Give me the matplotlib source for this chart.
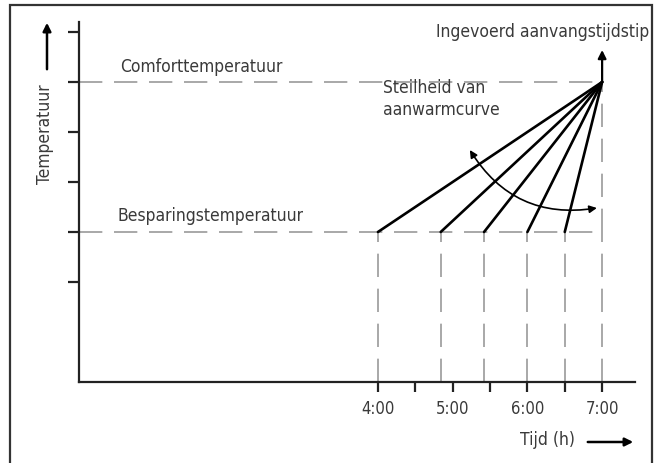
import numpy as np
import matplotlib
matplotlib.use("Agg")
import matplotlib.pyplot as plt
from matplotlib.patches import Rectangle, FancyArrowPatch

plt.rcParams['font.family'] = ['DejaVu Sans']
plt.rcParams['font.stretch'] = 'condensed'

## data: start times of the warm-up lines (hours) and the two temperature levels
start_times = [4.0, 4.84, 5.42, 6.0, 6.5]
switch_time = 7.0
t_saving = 3.0
t_comfort = 6.0
hour_ticks = [4, 5, 6, 7]
hour_labels = ['4:00', '5:00', '6:00', '7:00']
half_ticks = [4.5, 5.5, 6.5]

text_col = '#3a3a3a'
dash_col = '#9a9a9a'
dash = (14, 7)

fig = plt.figure(figsize=(6.56, 4.63), dpi=100)
W, H = 656, 463
ax = fig.add_axes([79 / W, (H - 382) / H, (635 - 79) / W, (382 - 22) / H])
ax.set_xlim(0, 7.44)
ax.set_ylim(0, 7.2)

# spines
for s in ['top', 'right']:
    ax.spines[s].set_visible(False)
for s in ['left', 'bottom']:
    ax.spines[s].set_linewidth(1.6)
    ax.spines[s].set_color('#222222')

ax.set_yticks([2, 3, 4, 5, 6, 7])
ax.set_yticklabels([])
ax.tick_params(axis='y', direction='out', length=8, width=1.6, color='#222222')
ax.set_xticks(hour_ticks)
ax.set_xticklabels(hour_labels)
ax.set_xticks(half_ticks, minor=True)
ax.tick_params(axis='x', which='both', direction='out', length=7, width=1.6,
               color='#222222', labelsize=12, labelcolor=text_col, pad=6)

# horizontal dashed levels
ax.plot([0, switch_time], [t_comfort, t_comfort], color=dash_col, lw=1.2, dashes=dash)
ax.plot([0, switch_time], [t_saving, t_saving], color=dash_col, lw=1.2, dashes=dash)

# vertical guides
for t in start_times + [switch_time]:
    ax.plot([t, t], [0, t_saving], color=dash_col, lw=1.2, dashes=dash)
ax.plot([switch_time, switch_time], [t_saving, t_comfort], color=dash_col, lw=1.2, dashes=dash)

# warm-up lines
for t in start_times:
    ax.plot([t, switch_time], [t_saving, t_comfort], color='black', lw=1.9,
            solid_capstyle='round')

# arrow at switch time
ax.annotate('', xy=(switch_time, 6.64), xytext=(switch_time, t_comfort),
            arrowprops=dict(arrowstyle='-|>', color='black', lw=1.6,
                            mutation_scale=12, shrinkA=0, shrinkB=0))

# curved arrow for slope
ax.annotate('', xy=(6.93, 3.48), xytext=(5.23, 4.64),
            arrowprops=dict(arrowstyle='<|-|>', color='black', lw=1.2,
                            mutation_scale=11, shrinkA=0, shrinkB=0,
                            connectionstyle='arc3,rad=0.33'))

# labels
fs = 12.5
ax.text(0.55, 6.3, 'Comforttemperatuur', fontsize=fs, color=text_col, ha='left', va='center')
ax.text(0.52, 3.32, 'Besparingstemperatuur', fontsize=fs, color=text_col, ha='left', va='center')
ax.text(6.2, 7.0, 'Ingevoerd aanvangstijdstip', fontsize=fs, color=text_col,
        ha='center', va='center', clip_on=False)
ax.text(4.07, 5.88, 'Steilheid van', fontsize=fs, color=text_col, ha='left', va='center')
ax.text(4.07, 5.44, 'aanwarmcurve', fontsize=fs, color=text_col, ha='left', va='center')

# axis captions with arrows
fig.text(45 / W, (H - 134) / H, 'Temperatuur', rotation=90, fontsize=fs,
         color=text_col, ha='center', va='center')
fig.add_artist(FancyArrowPatch(
    (47 / W, (H - 72) / H), (47 / W, (H - 20) / H), transform=fig.transFigure,
    arrowstyle='-|>', mutation_scale=12, color='black', lw=1.8))
fig.text(520 / W, (H - 440) / H, 'Tijd (h)', fontsize=fs, color=text_col,
         ha='left', va='center')
fig.add_artist(FancyArrowPatch(
    (585 / W, (H - 442) / H), (636 / W, (H - 442) / H), transform=fig.transFigure,
    arrowstyle='-|>', mutation_scale=12, color='black', lw=1.8))

# outer frame
fig.add_artist(Rectangle((9.5 / W, -0.05), (652 - 9.5) / W, 1.05 - 5.5 / H,
                         transform=fig.transFigure, fill=False,
                         edgecolor='#333333', lw=1.6))

fig.savefig('out.png', dpi=100)
